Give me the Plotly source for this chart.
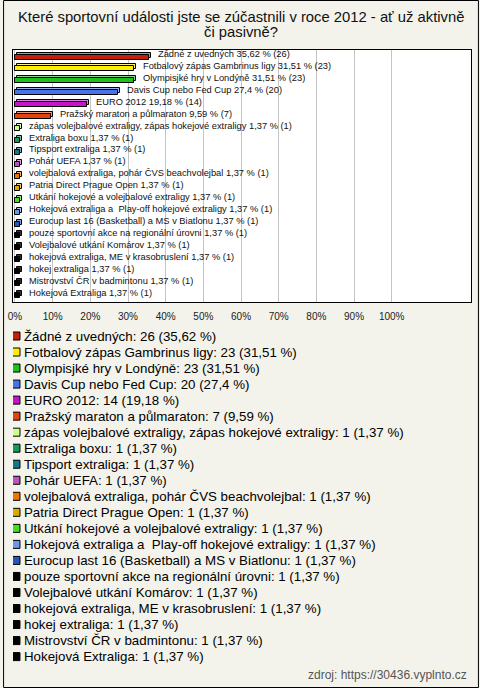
import plotly.graph_objects as go

# ---------------- data ----------------
names = [
    "Žádné z uvedných",
    "Fotbalový zápas Gambrinus ligy",
    "Olympisjké hry v Londýně",
    "Davis Cup nebo Fed Cup",
    "EURO 2012",
    "Pražský maraton a půlmaraton",
    "zápas volejbalové extraligy, zápas hokejové extraligy",
    "Extraliga boxu",
    "Tipsport extraliga",
    "Pohár UEFA",
    "volejbalová extraliga, pohár ČVS beachvolejbal",
    "Patria Direct Prague Open",
    "Utkání hokejové a volejbalové extraligy",
    "Hokejová extraliga a  Play-off hokejové extraligy",
    "Eurocup last 16 (Basketball) a MS v Biatlonu",
    "pouze sportovní akce na regionální úrovni",
    "Volejbalové utkání Komárov",
    "hokejová extraliga, ME v krasobruslení",
    "hokej extraliga",
    "Mistrovství ČR v badmintonu",
    "Hokejová Extraliga",
]
counts = [26, 23, 23, 20, 14, 7] + [1] * 15
percents = [35.62, 31.51, 31.51, 27.4, 19.18, 9.59] + [1.37] * 15
colors = [
    "#c41e0c", "#ffee00", "#1fbf1f", "#4574ea", "#c814c8", "#e2440e",
    "#ccff88", "#129a5a", "#137888", "#bb55bb", "#ee7700", "#ddaa00",
    "#44dd22", "#6a98ea", "#2456bb",
    "#000000", "#000000", "#000000", "#000000", "#000000", "#000000",
]
tick_values = [0, 10, 20, 30, 40, 50, 60, 70, 80, 90, 100]
tick_labels = [f"{v}%" for v in tick_values]
title_lines = ["Které sportovní události jste se zúčastnili v roce 2012 - ať už aktivně",
               "či pasivně?"]
source_text = "zdroj: https://30436.vyplnto.cz"

# ---------------- helpers ----------------
def fmt(p):
    return f"{p:g}".replace(".", ",")

def lighten(hexcol, f=0.45):
    h = hexcol.lstrip("#")
    r, g, b = (int(h[i:i + 2], 16) for i in (0, 2, 4))
    if (r, g, b) == (0, 0, 0):
        return "#333333"
    r = int(r + (255 - r) * f); g = int(g + (255 - g) * f); b = int(b + (255 - b) * f)
    return f"#{r:02x}{g:02x}{b:02x}"

n = len(names)
ypos = list(range(n))
FONT = "Liberation Sans, Arial, sans-serif"
BG = "#f3f3eb"

# page geometry (pixels)
W, H = 480, 688
ML, MR, MT, MB = 10, 8, 50, 8
PW, PH = W - ML - MR, H - MT - MB
main_bottom = 302
main_dom0 = (H - MB - main_bottom) / PH
px_per_pct = (392 - 12) / 100.0
x_lo = -(12 - ML) / px_per_pct
x_hi = x_lo + PW / px_per_pct
row = 11.93
y_top = -(57 - MT) / row
y_bot = y_top + (main_bottom - MT) / row

fig = go.Figure()

bw = 5 / row
dy = 2 / row
dx = 2 / px_per_pct
# back (top/side face) bars
fig.add_trace(go.Bar(
    x=percents, y=ypos, base=dx, orientation="h", width=bw, offset=-bw / 2 - dy,
    marker=dict(color=[lighten(c) for c in colors], line=dict(color="#000000", width=1)),
    hoverinfo="skip", showlegend=False,
))
# front bars
fig.add_trace(go.Bar(
    x=percents, y=ypos, orientation="h", width=bw,
    marker=dict(color=colors, line=dict(color="#000000", width=1)),
    hoverinfo="skip", showlegend=False,
))

annotations = []
for i in range(n):
    annotations.append(dict(
        x=percents[i], y=ypos[i], xref="x", yref="y",
        text=f"{names[i]} {fmt(percents[i])} % ({counts[i]})",
        showarrow=False, xanchor="left", yanchor="middle", xshift=7, yshift=3,
        font=dict(family=FONT, size=9.3, color="#111111"),
    ))

# legend area (own axes)
leg_first = 336
leg_step = 16.03
l_top = (main_bottom - leg_first) / leg_step
l_bot = l_top + (H - MB - main_bottom) / leg_step
fig.add_trace(go.Scatter(
    x=[3] * n, y=ypos, xaxis="x2", yaxis="y2", mode="markers",
    marker=dict(symbol="square", size=8, color=colors, line=dict(color="#000000", width=1)),
    hoverinfo="skip", showlegend=False,
))
for i in range(n):
    annotations.append(dict(
        x=9.5, y=ypos[i], xref="x2", yref="y2",
        text=f"{names[i]}: {counts[i]} ({fmt(percents[i])} %)",
        showarrow=False, xanchor="left", yanchor="middle",
        font=dict(family=FONT, size=13.3, color="#000000"),
    ))

# title lines
for k, (line, yc) in enumerate(zip(title_lines, [17.0, 32.0])):
    annotations.append(dict(
        x=0.5 - 1 / PW, y=(H - MB - yc) / PH, xref="paper", yref="paper",
        text=line, showarrow=False, xanchor="center", yanchor="middle",
        font=dict(family=FONT, size=14.8, color="#111111"),
    ))
# source
annotations.append(dict(
    x=(470 - ML) / PW, y=(H - MB - 675) / PH, xref="paper", yref="paper",
    text=source_text, showarrow=False, xanchor="right", yanchor="middle",
    font=dict(family=FONT, size=12, color="#555555"),
))

shapes = [
    # white plot background of main chart
    dict(type="rect", xref="x domain", yref="y domain", x0=0, x1=1, y0=0, y1=1,
         fillcolor="#ffffff", line=dict(width=0), layer="below"),
    # outer frame
    dict(type="rect", xref="paper", yref="paper",
         x0=(0.5 - ML) / PW, x1=(W - 0.5 - ML) / PW,
         y0=(H - MB - (H - 0.5)) / PH, y1=(H - MB - 0.5) / PH,
         line=dict(color="#000000", width=1), fillcolor="rgba(0,0,0,0)"),
]

fig.update_layout(
    width=W, height=H,
    margin=dict(l=ML, r=MR, t=MT, b=MB),
    paper_bgcolor=BG, plot_bgcolor=BG,
    barmode="overlay", bargap=0,
    showlegend=False,
    annotations=annotations, shapes=shapes,
    xaxis=dict(range=[x_lo, x_hi], tickvals=tick_values, ticktext=tick_labels,
               showgrid=True, gridcolor="#c4c4c4", gridwidth=1, zeroline=False,
               showline=True, mirror=True, linecolor="#000000", linewidth=1,
               ticks="", tickfont=dict(family=FONT, size=10, color="#222222"),
               ticklabelstandoff=5, anchor="y", domain=[0, 1], fixedrange=True),
    yaxis=dict(range=[y_bot, y_top], domain=[main_dom0, 1], showticklabels=False,
               showgrid=False, zeroline=False, showline=True, mirror=True,
               linecolor="#000000", linewidth=1, ticks="", anchor="x", fixedrange=True),
    xaxis2=dict(range=[0, PW], domain=[0, 1], anchor="y2", visible=False, fixedrange=True),
    yaxis2=dict(range=[l_bot, l_top], domain=[0, main_dom0], anchor="x2", visible=False,
                fixedrange=True),
    font=dict(family=FONT),
)

fig.write_html("out.html", config={"displayModeBar": False},
               post_script="document.body.style.margin='0px';")
